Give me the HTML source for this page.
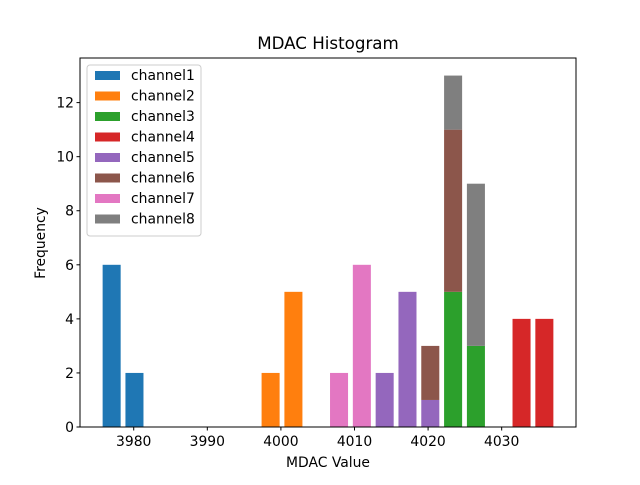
<!DOCTYPE html>
<html><head><meta charset="utf-8"><style>
body{margin:0;background:#fff;}
svg{font-family:"DejaVu Sans","Liberation Sans",sans-serif;}
</style></head><body>
<svg id="chart" width="640" height="480"></svg>
<script>
const channels=["channel1","channel2","channel3","channel4","channel5","channel6","channel7","channel8"];
const colors=["#1f77b4","#ff7f0e","#2ca02c","#d62728","#9467bd","#8c564b","#e377c2","#7f7f7f"];
const binCenters=[3977,3980.1,3998.6,4001.7,4007.9,4011,4014.1,4017.2,4020.3,4023.4,4026.5,4029.6,4032.7,4035.8];
const ch1=[6,2,0,0,0,0,0,0,0,0,0,0,0,0];
const ch2=[0,0,2,5,0,0,0,0,0,0,0,0,0,0];
const ch3=[0,0,0,0,0,0,0,0,0,5,3,0,0,0];
const ch4=[0,0,0,0,0,0,0,0,0,0,0,0,4,4];
const ch5=[0,0,0,0,0,0,2,5,1,0,0,0,0,0];
const ch6=[0,0,0,0,0,0,0,0,2,6,0,0,0,0];
const ch7=[0,0,0,0,2,6,0,0,0,0,0,0,0,0];
const ch8=[0,0,0,0,0,0,0,0,0,2,6,0,0,0];
const series=[ch1,ch2,ch3,ch4,ch5,ch6,ch7,ch8];
const xTicks=[3980,3990,4000,4010,4020,4030];
const yTicks=[0,2,4,6,8,10,12];
const L=80,R=576,T=58,B=427,xmin=3972.7,xmax=4040.1,ymax=13.65;
const binW=2.45;
const sx=v=>L+(v-xmin)/(xmax-xmin)*(R-L);
const sy=v=>B-v/ymax*(B-T);
const NS="http://www.w3.org/2000/svg";
const svg=document.getElementById('chart');
function mk(tag,attrs,parent){const e=document.createElementNS(NS,tag);for(const k in attrs)e.setAttribute(k,attrs[k]);(parent||svg).appendChild(e);return e;}
const base=binCenters.map(()=>0);
series.forEach((s,ci)=>{
  s.forEach((v,i)=>{
    if(v>0){
      const r=mk('rect',{x:sx(binCenters[i]-binW/2),y:sy(base[i]+v),width:sx(binCenters[i]+binW/2)-sx(binCenters[i]-binW/2),height:sy(base[i])-sy(base[i]+v),fill:colors[ci]});
      
      
    }
    base[i]+=v;
  });
});
const frame=mk('rect',{x:L,y:T,width:R-L,height:B-T,fill:'none',stroke:'#000','stroke-width':1});

xTicks.forEach(t=>{
  mk('line',{x1:sx(t),x2:sx(t),y1:B,y2:B+3.5,stroke:'#000'});
  const tx=mk('text',{x:sx(t),y:B+19,'font-size':13.9,'text-anchor':'middle'});tx.textContent=t;
  
});
yTicks.forEach(t=>{
  mk('line',{x1:L-3.5,x2:L,y1:sy(t),y2:sy(t),stroke:'#000'});
  const tx=mk('text',{x:L-6,y:sy(t)+5,'font-size':13.9,'text-anchor':'end'});tx.textContent=t;
  
});
let t=mk('text',{x:328,y:49,'font-size':16.7,'text-anchor':'middle'});t.textContent='MDAC Histogram';

t=mk('text',{x:328,y:467,'font-size':13.9,'text-anchor':'middle'});t.textContent='MDAC Value';

t=mk('text',{x:45,y:243,'font-size':13.9,'text-anchor':'middle',transform:'rotate(-90 45 243)'});t.textContent='Frequency';

const lg=mk('g',{});

mk('rect',{x:87,y:65,width:114,height:171,rx:3,fill:'#fff','fill-opacity':0.8,stroke:'#ccc'},lg);
channels.forEach((c,i)=>{
  const y=75+i*20.5;
  const g=mk('g',{},lg);
  
  mk('rect',{x:95,y:y-4,width:25,height:9,fill:colors[i]},g);
  const tx=mk('text',{x:131,y:y+5,'font-size':13.9},g);tx.textContent=c;
});
</script>
</body></html>
